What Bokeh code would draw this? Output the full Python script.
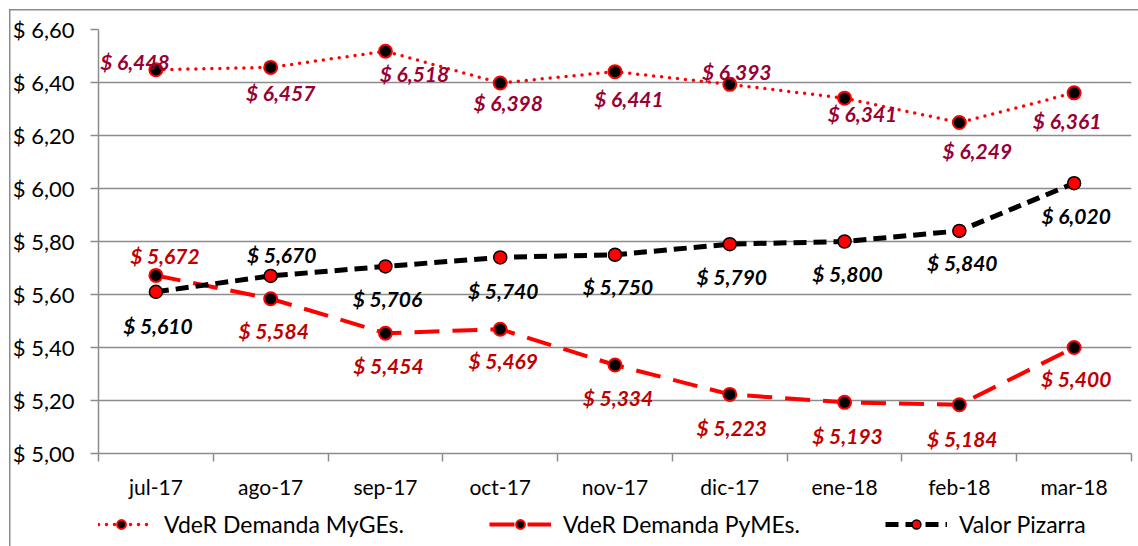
from bokeh.plotting import figure
from bokeh.layouts import column
from bokeh.models import (Range1d, FixedTicker, Legend, LegendItem, ColumnDataSource)
from bokeh.core.properties import value
from bokeh.embed import file_html
from bokeh.resources import INLINE

categories = ["jul-17", "ago-17", "sep-17", "oct-17", "nov-17", "dic-17", "ene-18", "feb-18", "mar-18"]
myges = [6.448, 6.457, 6.518, 6.398, 6.441, 6.393, 6.341, 6.249, 6.361]
pymes = [5.672, 5.584, 5.454, 5.469, 5.334, 5.223, 5.193, 5.184, 5.400]
pizarra = [5.610, 5.670, 5.706, 5.740, 5.750, 5.790, 5.800, 5.840, 6.020]
y_ticks = [5.0, 5.2, 5.4, 5.6, 5.8, 6.0, 6.2, 6.4, 6.6]
series_names = ["VdeR Demanda MyGEs.", "VdeR Demanda PyMEs.", "Valor Pizarra"]

# label offsets in screen px (style only)
myges_dx = [-21, 10, 29, 8, 14, 7, 18, 18, -7]
myges_dy = [-8, 25, 22, 19, 27, -13, 15, 28, 28]
pymes_dx = [9, 3, 3, 3, 3, 2, 3, 3, 2]
pymes_dy = [-20, 32, 32, 31, 33, 33, 33, 34, 31]
piz_dx = [2, 11, 2, 3, 3, 2, 3, 3, 2]
piz_dy = [34, -21, 32, 33, 32, 32, 32, 32, 32]

FONT = "Lato"
GRID = "#8c8c8c"
LINE_BG = "linear-gradient(#8c8c8c,#8c8c8c)"

xs = [i + 0.5 for i in range(len(categories))]
all_series = [myges, pymes, pizarra]


def money(v, nd=3):
    return "$ " + f"{v:.{nd}f}".replace(".", ",")


# series styles
styles = [
    dict(line=dict(line_color="#ff0000", line_width=3.5, line_dash="0 8", line_cap="round"),
         mark=dict(fill_color="black", line_color="#ff0000", line_width=2)),
    dict(line=dict(line_color="#ff0000", line_width=4, line_dash="25 13"),
         mark=dict(fill_color="black", line_color="#ff0000", line_width=2)),
    dict(line=dict(line_color="black", line_width=5, line_dash="13 7"),
         mark=dict(fill_color="#ff0000", line_color="black", line_width=1.5)),
]

p = figure(width=1138, height=502, output_backend="svg", toolbar_location=None,
           x_range=Range1d(0, len(categories)), y_range=Range1d(y_ticks[0], y_ticks[-1]),
           min_border_left=98, min_border_top=29, min_border_right=7, min_border_bottom=49)
p.outline_line_color = None
p.background_fill_color = "white"
p.border_fill_alpha = 0
p.styles = {
    "background": (f"{LINE_BG} 9px 9px / 1.5px 100% no-repeat, "
                   f"{LINE_BG} 9px 9px / 100% 1.5px no-repeat, white"),
}

# axes
p.xaxis.ticker = FixedTicker(ticks=xs, minor_ticks=list(range(len(categories) + 1)))
p.xaxis.major_label_overrides = {x: c for x, c in zip(xs, categories)}
p.xaxis.major_tick_out = 0
p.xaxis.major_tick_in = 0
p.xaxis.minor_tick_out = 8
p.xaxis.minor_tick_in = 0
p.xaxis.minor_tick_line_color = GRID
p.xaxis.minor_tick_line_width = 1.5
p.xaxis.axis_line_color = GRID
p.xaxis.axis_line_width = 1.5
p.xaxis.major_label_standoff = 12
p.xaxis.major_label_text_font = FONT
p.xaxis.major_label_text_font_size = "21px"
p.xaxis.major_label_text_color = "black"

p.yaxis.ticker = FixedTicker(ticks=y_ticks, minor_ticks=[])
p.yaxis.major_label_overrides = {t: money(t, 2) for t in y_ticks}
p.yaxis.major_tick_out = 8
p.yaxis.major_tick_in = 0
p.yaxis.major_tick_line_color = GRID
p.yaxis.major_tick_line_width = 1.5
p.yaxis.axis_line_color = GRID
p.yaxis.axis_line_width = 1.5
p.yaxis.major_label_standoff = 16
p.yaxis.major_label_text_font = FONT
p.yaxis.major_label_text_font_size = "22px"
p.yaxis.major_label_text_color = "black"

p.xgrid.grid_line_color = None
p.ygrid.grid_line_color = GRID
p.ygrid.grid_line_width = 1.5

# series lines and markers
for vals, st in zip(all_series, styles):
    p.line(xs, vals, **st["line"])
    p.scatter(xs, vals, size=13, **st["mark"])

# data labels
for vals, dx, dy, col in [(myges, myges_dx, myges_dy, "#990033"),
                          (pymes, pymes_dx, pymes_dy, "#c00000"),
                          (pizarra, piz_dx, piz_dy, "black")]:
    src = ColumnDataSource(dict(x=xs, y=vals, t=[money(v) for v in vals], dx=dx, dy=dy))
    p.text(x="x", y="y", text="t", x_offset="dx", y_offset="dy", source=src,
           text_align="center", text_baseline="middle", text_color=col,
           text_font=value(FONT), text_font_size="21px", text_font_style="bold italic")

# legend strip (separate figure below; the series are drawn outside its visible range)
q = figure(width=1138, height=44, output_backend="svg", toolbar_location=None,
           x_axis_location=None, y_axis_location=None,
           x_range=Range1d(0, len(categories)), y_range=Range1d(100, 101),
           min_border_left=0, min_border_top=0, min_border_right=0, min_border_bottom=0)
q.grid.grid_line_color = None
q.outline_line_color = None
q.background_fill_alpha = 0
q.border_fill_alpha = 0
q.styles = {"background": f"{LINE_BG} 9px 0px / 1.5px 100% no-repeat, white"}
items = []
for name, vals, st in zip(series_names, all_series, styles):
    rl = q.line(xs, vals, **st["line"])
    rs = q.scatter(xs, vals, size=13, **st["mark"])
    items.append(LegendItem(label=name, renderers=[rl, rs]))
legend = Legend(items=items, orientation="horizontal", location=(-8, 8),
                border_line_color=None, background_fill_alpha=0,
                label_text_font=FONT, label_text_font_size="23px", label_text_color="black",
                glyph_width=62, glyph_height=22, label_standoff=12, spacing=85,
                padding=2, margin=0)
q.add_layout(legend, "center")

layout = column(p, q, spacing=0)
open("out.html", "w").write(file_html(layout, INLINE))
